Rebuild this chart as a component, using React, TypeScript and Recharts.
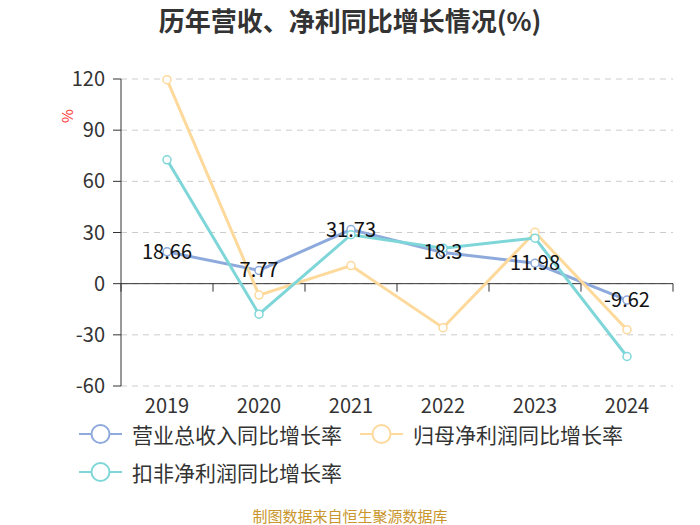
import React from "react";
import {
  LineChart, Line, XAxis, YAxis, CartesianGrid, ReferenceLine, LabelList, Legend
} from "recharts";

const YEARS = ["2019", "2020", "2021", "2022", "2023", "2024"];
const REVENUE_GROWTH = [18.66, 7.77, 31.73, 18.3, 11.98, -9.62];
const NET_PROFIT_GROWTH = [119.6, -6.7, 10.6, -25.8, 30.1, -27.0];
const DEDUCTED_PROFIT_GROWTH = [72.6, -17.9, 28.7, 20.8, 26.7, -42.7];
const Y_TICKS = [-60, -30, 0, 30, 60, 90, 120];

const SERIES = [
  { key: "revenue", name: "营业总收入同比增长率", color: "#8eaadc" },
  { key: "net", name: "归母净利润同比增长率", color: "#fdd99b" },
  { key: "deducted", name: "扣非净利润同比增长率", color: "#7fd6d8" },
];

const data = YEARS.map((year, i) => ({
  year,
  revenue: REVENUE_GROWTH[i],
  net: NET_PROFIT_GROWTH[i],
  deducted: DEDUCTED_PROFIT_GROWTH[i],
}));

const FONT = "'Noto Sans CJK SC', 'Noto Sans', sans-serif";
const AXIS_COLOR = "#333";

// zero line with category boundary ticks, like the echarts axis on zero
const ZeroAxis = (props: any) => {
  const { x1, y1, x2 } = props;
  const n = YEARS.length;
  const step = (x2 - x1) / n;
  const marks = [];
  for (let i = 0; i <= n; i++) {
    const x = x1 + i * step;
    marks.push(<line key={i} x1={x} y1={y1} x2={x} y2={y1 + 8} stroke={AXIS_COLOR} strokeWidth={1} />);
  }
  return (
    <g>
      <line x1={x1} y1={y1} x2={x2} y2={y1} stroke={AXIS_COLOR} strokeWidth={1} />
      {marks}
    </g>
  );
};

const ValueLabel = (props: any) => {
  const { x, y, value } = props;
  return (
    <text x={x} y={y} dy={7} textAnchor="middle" fontSize={20} fill="#111" fontFamily={FONT}>
      {value}
    </text>
  );
};

const LegendContent = () => (
  <div style={{ display: "flex", flexWrap: "wrap", width: 600, fontFamily: FONT }}>
    {SERIES.map((s) => (
      <div key={s.key} style={{ display: "flex", alignItems: "center", height: 38, marginRight: 18 }}>
        <svg width={43} height={22} style={{ marginRight: 10 }}>
          <line x1={0} y1={11} x2={43} y2={11} stroke={s.color} strokeWidth={2} />
          <circle cx={21.5} cy={11} r={9} fill="#fff" stroke={s.color} strokeWidth={2} />
        </svg>
        <span style={{ display: "inline-block", height: 21, fontSize: 21, color: "#333", lineHeight: "21px" }}>{s.name}</span>
      </div>
    ))}
  </div>
);

export default function App() {
  return (
    <div style={{ position: "absolute", left: 0, top: 0, width: 700, height: 525, background: "#fff", fontFamily: FONT }}>
      <div style={{ position: "absolute", left: 0, top: 3, width: 700, textAlign: "center", fontSize: 26, fontWeight: "bold", color: "#333", lineHeight: "34px" }}>
        历年营收、净利同比增长情况(%)
      </div>
      <div style={{ position: "absolute", left: 58, top: 105, width: 18, height: 22, color: "#ff3333", fontSize: 15, lineHeight: "22px", textAlign: "center", transform: "rotate(-90deg)" }}>
        %
      </div>
      <LineChart width={700} height={525} data={data} margin={{ top: 79, right: 27, left: 61, bottom: 109 }}>
        <CartesianGrid horizontal vertical={false} stroke="#cccccc" strokeDasharray="6 5" />
        <XAxis
          dataKey="year"
          axisLine={false}
          tickLine={false}
          height={30}
          tickMargin={7}
          padding={{ left: 46, right: 46 }}
          tick={{ fill: AXIS_COLOR, fontSize: 20, fontFamily: FONT }}
        />
        <YAxis
          domain={[-60, 120]}
          ticks={Y_TICKS}
          width={60}
          axisLine={{ stroke: AXIS_COLOR }}
          tickLine={{ stroke: AXIS_COLOR }}
          tickSize={8}
          tickMargin={8}
          tick={{ fill: AXIS_COLOR, fontSize: 20, fontFamily: FONT }}
          interval={0}
        />
        <ReferenceLine y={0} shape={<ZeroAxis />} />
        <Legend
          layout="horizontal"
          verticalAlign="middle"
          align="center"
          content={<LegendContent />}
          wrapperStyle={{ left: 79, top: 415, width: 600 }}
        />
        {SERIES.map((s) => (
          <Line
            key={s.key}
            dataKey={s.key}
            name={s.name}
            type="linear"
            stroke={s.color}
            strokeWidth={3}
            dot={{ r: 4, fill: "#fff", stroke: s.color, strokeWidth: 1.5 }}
            activeDot={false}
            isAnimationActive={false}
          >
            {s.key === "revenue" && <LabelList dataKey="revenue" content={<ValueLabel />} />}
          </Line>
        ))}
      </LineChart>
      <div style={{ position: "absolute", left: 0, top: 505, width: 700, textAlign: "center", fontSize: 15, color: "#c9962c", lineHeight: "22px" }}>
        制图数据来自恒生聚源数据库
      </div>
    </div>
  );
}
